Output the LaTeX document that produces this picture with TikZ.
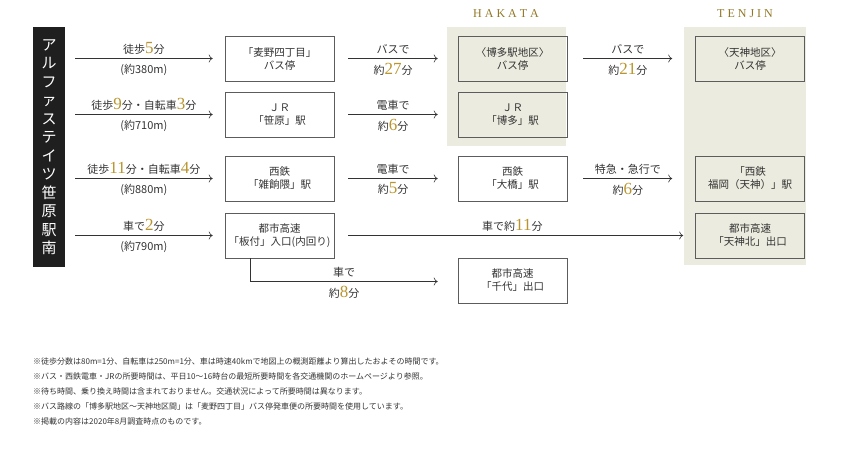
\documentclass[tikz,border=0pt]{standalone}
\usepackage{fontspec}
\setmainfont{Noto Sans CJK JP}
\newfontfamily\numfont{Liberation Serif}
\usetikzlibrary{positioning,arrows.meta}
\definecolor{gold}{HTML}{B8952E}
\definecolor{beige}{HTML}{ECEBDF}
\definecolor{txt}{HTML}{333333}
\newcommand{\gn}[1]{{\numfont\fontsize{17}{17}\selectfont\color{gold}#1}}
\tikzset{
  stop/.style={draw=txt!80,semithick,minimum width=109pt,minimum height=45pt,align=center,font=\fontsize{10.5}{13}\selectfont,text=txt,inner sep=1pt},
  lbl/.style={font=\fontsize{11}{12}\selectfont,text=txt,inner sep=0pt},
  go/.style={-{To[length=4pt,width=8pt]},draw=txt,semithick},
  note/.style={anchor=west,font=\fontsize{8}{9}\selectfont,text=txt,inner sep=0pt}
}
\begin{document}
\begin{tikzpicture}[x=1pt,y=-1pt]
\useasboundingbox (0,0) rectangle (850,448);
% backgrounds
\fill[beige] (447,27) rectangle (566,146);
\fill[beige] (684,27) rectangle (806,265);
\node[font=\numfont\fontsize{12}{12}\selectfont,text=gold!80!black] (hakata) at (506,14) {H A K A T A};
\node[font=\numfont\fontsize{12}{12}\selectfont,text=gold!80!black] (tenjin) at (745,14) {T E N J I N};
% origin bar
\fill[black!88] (33,27) rectangle (65,267);
\node[text=white,align=center,font=\fontsize{15}{18.5}\selectfont] (home) at (49,147)
  {ア\\ル\\フ\\ァ\\ス\\テ\\イ\\ツ\\笹\\原\\駅\\南};
% first column stops
\node[stop] (mugino) at (279.5,58.5) {「麦野四丁目」\\バス停};
\node[stop] (sasa) at (279.5,114.5) {ＪＲ\\「笹原」駅};
\node[stop] (zasshonokuma) at (279.5,178.5) {西鉄\\「雑餉隈」駅};
\node[stop] (itazuke) at (279.5,235.5) {都市高速\\「板付」入口(内回り)};
% second column
\node[stop] (hakatabus) at (512.5,58.5) {〈博多駅地区〉\\バス停};
\node[stop] (hakatajr) at (512.5,114.5) {ＪＲ\\「博多」駅};
\node[stop] (ohashi) at (512.5,178.5) {西鉄\\「大橋」駅};
\node[stop] (chiyo) at (512.5,280.5) {都市高速\\「千代」出口};
% third column
\node[stop] (tenjinbus) at (750,58.5) {〈天神地区〉\\バス停};
\node[stop] (fukuoka) at (750,178.5) {「西鉄\\福岡（天神）」駅};
\node[stop] (tenjinkita) at (750,235.5) {都市高速\\「天神北」出口};
% from home
\foreach \n/\t/\b in {mugino/{徒歩\gn{5}分}/{(約380m)},
                      sasa/{徒歩\gn{9}分・自転車\gn{3}分}/{(約710m)},
                      zasshonokuma/{徒歩\gn{11}分・自転車\gn{4}分}/{(約880m)},
                      itazuke/{車で\gn{2}分}/{(約790m)}}{
  \coordinate (s-\n) at (75,0 |- \n.west);
  \draw[go] (s-\n) -- ([xshift=-12pt]\n.west)
    node[lbl,midway,above=4pt] {\t} node[lbl,midway,below=5pt] {\b};
}
% second leg
\draw[go] ([xshift=14pt]mugino.east) -- ([xshift=-20pt]hakatabus.west)
  node[lbl,midway,above=4pt] {バスで} node[lbl,midway,below=4pt] {約\gn{27}分};
\draw[go] ([xshift=14pt]sasa.east) -- ([xshift=-20pt]hakatajr.west)
  node[lbl,midway,above=4pt] {電車で} node[lbl,midway,below=4pt] {約\gn{6}分};
\draw[go] ([xshift=14pt]zasshonokuma.east) -- ([xshift=-20pt]ohashi.west)
  node[lbl,midway,above=4pt] {電車で} node[lbl,midway,below=4pt] {約\gn{5}分};
\draw[go] ([xshift=14pt]itazuke.east) -- ([xshift=-12pt]tenjinkita.west)
  node[lbl,pos=0.49,above=4pt] {車で約\gn{11}分};
\coordinate (branch) at ([xshift=-29pt]itazuke.south);
\draw[go] (branch) |- ([xshift=-20pt,yshift=-1pt]chiyo.west)
  node[lbl,pos=0.75,above=4pt] {車で} node[lbl,pos=0.75,below=4pt] {約\gn{8}分};
% third leg
\draw[go] ([xshift=16pt]hakatabus.east) -- ([xshift=-23pt]tenjinbus.west)
  node[lbl,midway,above=4pt] {バスで} node[lbl,midway,below=4pt] {約\gn{21}分};
\draw[go] ([xshift=16pt]ohashi.east) -- ([xshift=-23pt]fukuoka.west)
  node[lbl,midway,above=4pt] {特急・急行で} node[lbl,midway,below=4pt] {約\gn{6}分};
% notes
\node[note] (n1) at (33,361) {※徒歩分数は80m=1分、自転車は250m=1分、車は時速40kmで地図上の概測距離より算出したおよその時間です。};
\node[note] (n2) at (33,376) {※バス・西鉄電車・JRの所要時間は、平日10～16時台の最短所要時間を各交通機関のホームページより参照。};
\node[note] (n3) at (33,391) {※待ち時間、乗り換え時間は含まれておりません。交通状況によって所要時間は異なります。};
\node[note] (n4) at (33,406) {※バス路線の「博多駅地区～天神地区間」は「麦野四丁目」バス停発車便の所要時間を使用しています。};
\node[note] (n5) at (33,421) {※掲載の内容は2020年8月調査時点のものです。};
\end{tikzpicture}
\end{document}
